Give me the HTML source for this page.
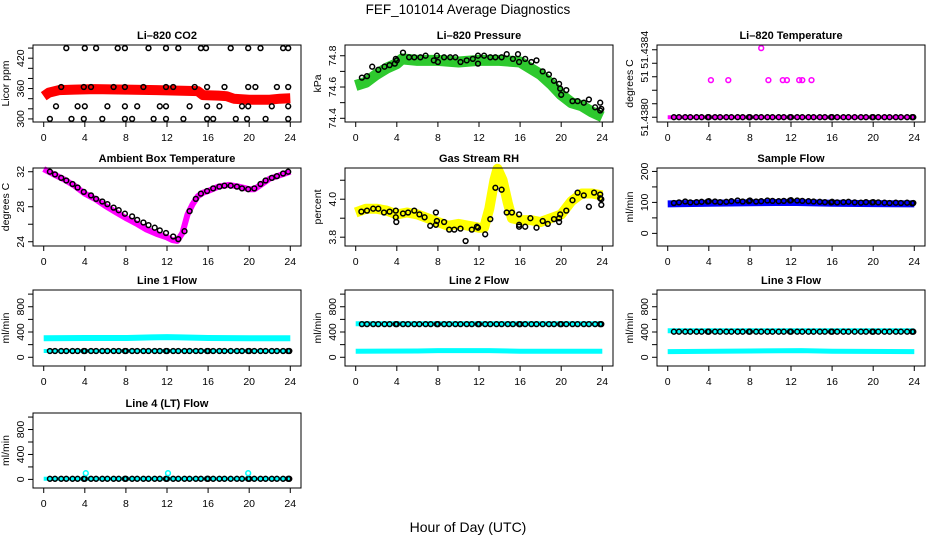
<!DOCTYPE html>
<html><head><meta charset="utf-8">
<style>
html,body{margin:0;padding:0;background:#fff;}
svg{display:block;font-family:"Liberation Sans",Arial,sans-serif;}
.pt{font-size:11px;font-weight:bold;text-anchor:middle;}
.tk{font-size:10.5px;text-anchor:middle;}
</style></head>
<body>
<svg id="chart" width="936" height="540" viewBox="0 0 936 540" xmlns="http://www.w3.org/2000/svg">
<text x="468" y="14" text-anchor="middle" font-size="13.5">FEF_101014  Average Diagnostics</text>
<text x="468" y="532" text-anchor="middle" font-size="14">Hour of Day (UTC)</text>
</svg>
<script>
const xTicks = [0,4,8,12,16,20,24];
const tC = [0.6,1.1,1.7,2.2,2.8,3.3,3.9,4.0,4.6,5.1,5.7,6.2,6.8,7.3,7.9,8.0,8.6,9.1,9.7,10.2,10.8,11.3,11.9,12.0,12.6,13.1,13.7,14.2,14.8,15.3,15.9,16.0,16.5,17.1,17.6,18.2,18.8,19.3,19.9,20.0,20.5,21.1,21.6,22.2,22.7,23.3,23.8,23.9];

// CO2
const co2BandX = [0,0.5,1.5,3,5,8,11,13,15,15.5,17,17.8,18.5,20,22,23,24];
const co2BandY = [345,352,357,358,359,358,357,356,355,347,346,345,340,338,338,340,341];
const co2CircX = [2.2,4.0,5.1,7.2,7.9,10.2,11.9,13.1,15.3,15.8,18.2,19.9,21.1,23.3,23.8,
 1.7,3.9,4.6,6.8,7.9,9.7,11.9,12.6,14.7,15.9,17.6,19.9,20.6,22.7,23.8,
 1.2,3.3,4.0,6.2,7.9,9.1,11.3,11.9,14.2,15.9,17.1,19.3,19.9,22.2,23.8,
 0.6,2.7,3.9,5.7,7.9,8.6,10.7,11.9,13.6,15.9,16.5,18.7,19.8,21.6,23.8];
const co2CircY = [440,440,440,440,440,440,440,440,440,440,440,440,440,440,440,
 363,363,363,363,363,363,363,363,363,363,363,363,363,363,363,
 325,325,325,325,325,325,325,325,325,325,325,325,325,325,325,
 300,300,300,300,300,300,300,300,300,300,300,300,300,300,300];

// Pressure
const presBandX = [0,1,2,3,4,4.5,6,8,10,12,14,16,17,18,19,20,21,22,23,24];
const presBandY = [74.61,74.63,74.68,74.72,74.75,74.78,74.77,74.77,74.76,74.77,74.77,74.76,74.72,74.68,74.62,74.55,74.50,74.48,74.44,74.41];
const presCircX = [0.6,1.1,1.6,2.2,2.8,3.3,3.8,3.9,4.0,4.6,5.2,5.7,6.3,6.8,7.6,7.9,8.0,8.6,9.2,9.7,10.2,10.8,11.4,11.9,11.9,12.5,13.1,13.6,14.2,14.7,15.3,15.8,15.9,16.5,17.1,17.6,18.2,18.8,19.3,19.8,19.9,20.0,20.5,21.1,21.6,22.2,22.7,23.3,23.8,23.8,23.9];
const presCircY = [74.66,74.67,74.73,74.71,74.73,74.74,74.75,74.78,74.77,74.82,74.79,74.79,74.79,74.80,74.77,74.80,74.76,74.79,74.79,74.79,74.76,74.77,74.78,74.80,74.75,74.80,74.79,74.79,74.79,74.81,74.78,74.81,74.76,74.78,74.76,74.77,74.70,74.68,74.64,74.62,74.59,74.55,74.58,74.51,74.51,74.50,74.52,74.47,74.50,74.45,74.46];

// Li-820 Temperature
const ltBandX = [0,24];
const ltBandY = [51.4380,51.4380];
const ltMagX = [4.2,5.9,9.1,9.8,11.2,11.6,12.8,13.1,14.0];
const ltMagY = [51.43822,51.43822,51.43841,51.43822,51.43822,51.43822,51.43822,51.43822,51.43822];
const ltBlack = [51.4380,51.4380,51.4380,51.4380,51.4380,51.4380,51.4380,51.4380,51.4380,51.4380,51.4380,51.4380,51.4380,51.4380,51.4380,51.4380,51.4380,51.4380,51.4380,51.4380,51.4380,51.4380,51.4380,51.4380,51.4380,51.4380,51.4380,51.4380,51.4380,51.4380,51.4380,51.4380,51.4380,51.4380,51.4380,51.4380,51.4380,51.4380,51.4380,51.4380,51.4380,51.4380,51.4380,51.4380,51.4380,51.4380,51.4380,51.4380];

// Ambient box temperature
const ambX = [0,1,2,3,4,5,6,7,8,9,10,11,12,12.5,13,13.5,14,14.5,15,15.5,16,17,18,19,20,20.5,21,22,23,24];
const ambY = [32.3,31.7,31.1,30.4,29.5,28.9,28.1,27.4,26.7,26.1,25.4,24.9,24.5,24.2,24.1,25.0,27.1,28.3,29.2,29.6,29.8,30.3,30.5,30.3,30.0,30.0,30.4,31.2,31.6,32.0];
const ambCircX = [0.6,1.1,1.7,2.2,2.8,3.3,3.9,4.6,5.1,5.7,6.2,6.8,7.3,7.9,8.6,9.1,9.7,10.2,10.8,11.3,11.9,12.6,13.1,13.7,14.2,14.8,15.3,15.9,16.5,17.1,17.6,18.2,18.8,19.3,19.9,20.5,21.1,21.6,22.2,22.7,23.3,23.8];
const ambCircY = [32.0,31.7,31.3,31.0,30.6,30.2,29.7,29.3,28.9,28.6,28.3,27.9,27.6,27.2,26.9,26.5,26.2,25.9,25.6,25.3,25.0,24.6,24.3,25.2,27.5,28.9,29.5,29.8,30.1,30.3,30.4,30.4,30.3,30.1,30.0,30.1,30.6,31.0,31.3,31.5,31.8,32.0];

// Gas stream RH
const rhBandX = [0,1,2,3,4,5,6,7,8,9,10,11,12,12.5,13,13.5,13.8,14.3,14.8,15.2,16,17,18,19,20,21,22,23,24];
const rhBandY = [3.93,3.95,3.95,3.94,3.92,3.93,3.92,3.90,3.88,3.86,3.87,3.86,3.85,3.85,3.95,4.10,4.16,4.10,3.98,3.90,3.89,3.89,3.88,3.90,3.92,3.99,4.03,4.03,4.02];
const rhCircX = [0.55,1.1,1.7,2.2,2.75,3.3,3.9,3.9,3.95,4.6,5.1,5.7,6.2,6.7,7.25,7.8,7.9,7.8,8.6,9.1,9.6,10.2,10.7,11.3,11.8,11.9,12.6,13.1,13.6,14.2,14.7,15.2,15.9,15.9,15.9,16.5,17.0,17.6,18.2,18.7,19.3,19.8,19.8,19.9,20.5,21.1,21.6,22.2,22.7,23.2,23.8,23.8,23.9,23.9];
const rhCircY = [3.935,3.94,3.95,3.95,3.93,3.935,3.94,3.905,3.88,3.925,3.93,3.94,3.92,3.905,3.86,3.93,3.885,3.865,3.88,3.84,3.84,3.845,3.78,3.84,3.855,3.85,3.815,3.895,4.06,4.05,3.93,3.93,3.92,3.865,3.855,3.855,3.90,3.85,3.885,3.87,3.895,3.90,3.88,3.92,3.94,3.995,4.035,4.02,3.96,4.035,4.025,4.005,3.97,4.0];

// Sample flow
const sfBandX = [0,4,8,12,16,20,24];
const sfBandY = [95,97,99,100,97,96,95];
const sfBlack = [98,100,103,100,101,102,103,104,103,101,102,104,106,103,104,106,103,104,106,105,104,105,106,107,106,105,104,103,102,101,100,102,100,101,102,100,99,101,100,101,100,99,98,99,98,99,97,98];

// Line flows
const l1UpX = [0,4,8,10.5,12,13.3,16,20,24];
const l1UpY = [300,305,305,315,320,315,305,300,300];
const l1LoX = [0,24];
const l1LoY = [100,100];
const l1Black = [100,100,100,100,100,100,100,100,100,100,100,100,100,100,100,100,100,100,100,100,100,100,100,100,100,100,100,100,100,100,100,100,100,100,100,100,100,100,100,100,100,100,100,100,100,100,100,100];
const l2UpX = [0,24];
const l2UpY = [530,530];
const l2LoX = [0,6,8,13,16,24];
const l2LoY = [95,100,105,105,95,95];
const l2Black = [525,525,525,525,525,525,525,525,525,525,525,525,525,525,525,525,525,525,525,525,525,525,525,525,525,525,525,525,525,525,525,525,525,525,525,525,525,525,525,525,525,525,525,525,525,525,525,525];
const l3UpX = [0,24];
const l3UpY = [420,420];
const l3LoX = [0,8,13,16,24];
const l3LoY = [90,100,105,95,90];
const l3Black = [405,405,405,405,405,405,405,405,405,405,405,405,405,405,405,405,405,405,405,405,405,405,405,405,405,405,405,405,405,405,405,405,405,405,405,405,405,405,405,405,405,405,405,405,405,405,405,405];
const l4BandX = [0,24];
const l4BandY = [10,10];
const l4OutX = [4.1,12.1,19.9];
const l4OutY = [100,100,100];
const l4Black = [10,10,10,10,10,10,10,10,10,10,10,10,10,10,10,10,10,10,10,10,10,10,10,10,10,10,10,10,10,10,10,10,10,10,10,10,10,10,10,10,10,10,10,10,10,10,10,10];

const NS = "http://www.w3.org/2000/svg";
const svg = document.getElementById('chart');
function mk(tag, attrs, parent){
  const e = document.createElementNS(NS, tag);
  for (const k in attrs) e.setAttribute(k, attrs[k]);
  (parent||svg).appendChild(e);
  return e;
}

function panel(name, title, ytitle, l, t, r, b, ymin, ymax, yticks, ylabs) {
  const g = mk('g', {});
  
  
  const px = (r - l) * 0.04, py = (b - t) * 0.04;
  const sx = v => l + px + v / 24 * (r - l - 2 * px);
  const sy = v => b - py - (v - ymin) / (ymax - ymin) * (b - t - 2 * py);
  const ti = mk('text', {x: (l + r) / 2, y: t - 6, class: 'pt'}, g);
  ti.textContent = title;
  
  
  const yt = mk('text', {x: 0, y: 0, 'font-size': 10.5, 'text-anchor': 'middle', transform: `translate(${l - 24},${(t + b) / 2}) rotate(-90)`}, g);
  yt.textContent = ytitle;
  
  
  const xa = mk('g', {}, g);
  
  
  xTicks.forEach(v => {
    mk('line', {x1: sx(v), x2: sx(v), y1: b, y2: b + 5, stroke: '#000'}, xa);
    const tx = mk('text', {x: sx(v), y: b + 19, class: 'tk'}, xa);
    tx.textContent = v;
  });
  const ya = mk('g', {}, g);
  
  
  yticks.forEach(v => mk('line', {x1: l - 5, x2: l, y1: sy(v), y2: sy(v), stroke: '#000'}, ya));
  ylabs.forEach(v => {
    const tx = mk('text', {x: 0, y: 0, class: 'tk', transform: `translate(${l - 9},${sy(v[0])}) rotate(-90)`}, ya);
    tx.textContent = v[1];
  });
  const marks = mk('g', {}, g);
  
  
  const box = mk('rect', {x: l, y: t, width: r - l, height: b - t, fill: 'none', stroke: '#000', 'stroke-width': 1}, g);
  
  
  return {
    band(xs, ys, color, w, nm) {
      const pts = xs.map((x, i) => sx(x).toFixed(1) + ',' + sy(ys[i]).toFixed(1)).join(' ');
      const pl = mk('polyline', {points: pts, fill: 'none', stroke: color, 'stroke-width': w, 'stroke-linejoin': 'round', 'stroke-linecap': 'butt'}, marks);
      
      
    },
    circles(xs, ys, color, nm) {
      const cg = mk('g', {}, marks);
      
      
      xs.forEach((x, i) => {
        const c = mk('circle', {cx: sx(x).toFixed(1), cy: sy(ys[i]).toFixed(1), r: 2.4, fill: 'none', stroke: color, 'stroke-width': 1.5}, cg);
        
        
      });
    }
  };
}

const flowTicks = [0,200,400,600,800,1000];
const flowLabs = [[0,'0'],[400,'400'],[800,'800']];

let p = panel('co2', 'Li\u2013820 CO2', 'Licor ppm', 33, 45, 301, 122, 300, 440, [300,320,340,360,380,400,420,440], [[300,'300'],[360,'360'],[420,'420']]);
p.band(co2BandX, co2BandY, '#ff0000', 10, 'co2-band');
p.circles(co2CircX, co2CircY, '#000', 'co2-average');

p = panel('pressure', 'Li\u2013820 Pressure', 'kPa', 345, 45, 613, 122, 74.396, 74.849, [74.4,74.5,74.6,74.7,74.8], [[74.4,'74.4'],[74.6,'74.6'],[74.8,'74.8']]);
p.band(presBandX, presBandY, '#2ec92e', 11, 'pressure-band');
p.circles(presCircX, presCircY, '#000', 'pressure-average');

p = panel('li-temp', 'Li\u2013820 Temperature', 'degrees C', 657, 45, 925, 122, 51.43799, 51.43841, [51.4380,51.43808,51.43816,51.43824,51.43832,51.4384], [[51.4380,'51.4380'],[51.43824,'51'],[51.4384,'51.4384']]);
p.band(ltBandX, ltBandY, '#ff00ff', 4, 'li-temp-band');
p.circles(tC, ltBlack, '#000', 'li-temp-average');
p.circles(ltMagX, ltMagY, '#ff00ff', 'li-temp-outliers');

p = panel('ambient-temp', 'Ambient Box Temperature', 'degrees C', 33, 168, 301, 246, 23.87, 32.07, [24,26,28,30,32], [[24,'24'],[28,'28'],[32,'32']]);
p.band(ambX, ambY, '#ff00ff', 6, 'ambient-temp-band');
p.circles(ambCircX, ambCircY, '#000', 'ambient-temp-average');

p = panel('gas-rh', 'Gas Stream RH', 'percent', 345, 168, 613, 246, 3.77, 4.148, [3.8,3.9,4.0,4.1], [[3.8,'3.8'],[4.0,'4.0']]);
p.band(rhBandX, rhBandY, '#ffff00', 10, 'gas-rh-band');
p.circles(rhCircX, rhCircY, '#000', 'gas-rh-average');

p = panel('sample-flow', 'Sample Flow', 'ml/min', 657, 168, 925, 246, -30.7, 201, [0,50,100,150,200], [[0,'0'],[100,'100'],[200,'200']]);
p.band(sfBandX, sfBandY, '#0000ff', 7, 'sample-flow-band');
p.circles(tC, sfBlack, '#000', 'sample-flow-average');

p = panel('line1-flow', 'Line 1 Flow', 'ml/min', 33, 290, 301, 366, -90, 1017, flowTicks, flowLabs);
p.band(l1UpX, l1UpY, '#00ffff', 6, 'line1-upper-band');
p.band(l1LoX, l1LoY, '#00ffff', 4, 'line1-lower-band');
p.circles(tC, l1Black, '#000', 'line1-average');

p = panel('line2-flow', 'Line 2 Flow', 'ml/min', 345, 290, 613, 366, -90, 1017, flowTicks, flowLabs);
p.band(l2UpX, l2UpY, '#00ffff', 5, 'line2-upper-band');
p.band(l2LoX, l2LoY, '#00ffff', 5, 'line2-lower-band');
p.circles(tC, l2Black, '#000', 'line2-average');

p = panel('line3-flow', 'Line 3 Flow', 'ml/min', 657, 290, 925, 366, -90, 1017, flowTicks, flowLabs);
p.band(l3UpX, l3UpY, '#00ffff', 5, 'line3-upper-band');
p.band(l3LoX, l3LoY, '#00ffff', 5, 'line3-lower-band');
p.circles(tC, l3Black, '#000', 'line3-average');

p = panel('line4-flow', 'Line 4 (LT) Flow', 'ml/min', 33, 413, 301, 488, -90, 1017, flowTicks, flowLabs);
p.band(l4BandX, l4BandY, '#00ffff', 4, 'line4-band');
p.circles(tC, l4Black, '#000', 'line4-average');
p.circles(l4OutX, l4OutY, '#00ffff', 'line4-outliers');
</script>
</body></html>
